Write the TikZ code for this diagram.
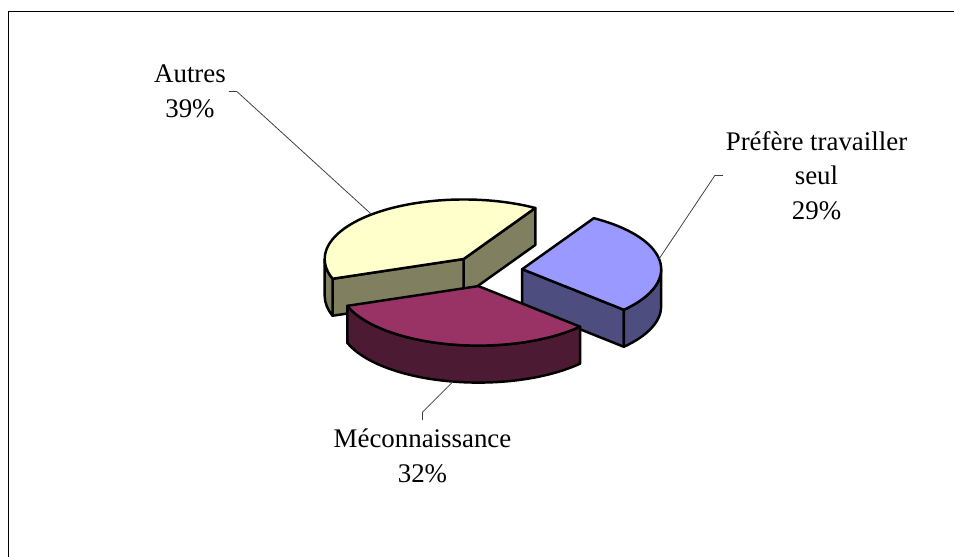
\documentclass[tikz,border=0pt]{standalone}
\usepackage{fontspec}
\setmainfont{Liberation Serif}
\definecolor{autresTop}{HTML}{FFFFCC}
\definecolor{autresSide}{HTML}{808060}
\definecolor{seulTop}{HTML}{9999FF}
\definecolor{seulSide}{HTML}{4D4D80}
\definecolor{mecTop}{HTML}{993366}
\definecolor{mecSide}{HTML}{4D1A33}

\begin{document}
\begin{tikzpicture}[x=0.02cm,y=0.02cm,
    face/.style={draw=black,line width=1.4pt,line join=round},
    ell/.style={x radius=139,y radius=59.5},
    lab/.style={align=center,inner sep=1pt,font=\fontsize{15.3pt}{19.6pt}\selectfont},
    lead/.style={draw=black!75,line width=0.45pt}]
    \useasboundingbox (0,0) rectangle (954,557);
    \draw[line width=1pt] (954,545.5) -- (8.5,545.5) -- (8.5,0);

    % Autres
    \begin{scope}[shift={(463.7,298)}]
        \filldraw[face,fill=autresSide] (0,0) -- (59:139 and 59.5) -- ++(0,-37) -- (0,-37) -- cycle;
        \filldraw[face,fill=autresSide] (0,0) -- (199.4:139 and 59.5) -- ++(0,-37) -- (0,-37) -- cycle;
        \filldraw[face,fill=autresSide] (180:139 and 59.5) arc[ell,start angle=180,end angle=199.4] -- ++(0,-37) arc[ell,start angle=199.4,end angle=180] -- cycle;
        \filldraw[face,fill=autresTop] (0,0) -- (59:139 and 59.5) arc[ell,start angle=59,end angle=199.4] -- cycle;
        \coordinate (autresPt) at (131.5:139 and 59.5);
    \end{scope}

    % Prefere travailler seul
    \begin{scope}[shift={(522.2,287.8)}]
        \filldraw[face,fill=seulSide] (0,0) -- (-43:139 and 59.5) -- ++(0,-37) -- (0,-37) -- cycle;
        \filldraw[face,fill=seulSide] (-43:139 and 59.5) arc[ell,start angle=-43,end angle=0] -- ++(0,-37) arc[ell,start angle=0,end angle=-43] -- cycle;
        \filldraw[face,fill=seulTop] (0,0) -- (-43:139 and 59.5) arc[ell,start angle=-43,end angle=59] -- cycle;
        \coordinate (seulPt) at (10:139 and 59.5);
    \end{scope}

    % Meconnaissance
    \begin{scope}[shift={(478.4,270.9)}]
        \filldraw[face,fill=mecSide] (-160.6:139 and 59.5) arc[ell,start angle=-160.6,end angle=-43] -- ++(0,-37) arc[ell,start angle=-43,end angle=-160.6] -- cycle;
        \filldraw[face,fill=mecTop] (0,0) -- (-160.6:139 and 59.5) arc[ell,start angle=-160.6,end angle=-43] -- cycle;
        \path (-100.5:139 and 59.5) ++(0,-37) coordinate (mecPt);
    \end{scope}

    \node[lab] (autres) at (190,465.5) {Autres\\39\%};
    \node[lab] (seul) at (816.5,381.5) {Préfère travailler\\seul\\29\%};
    \node[lab] (mec) at (422.5,101) {Méconnaissance\\32\%};

    \draw[lead] ([xshift=0.5pt]autres.east) -- ++(8,0) -- (autresPt);
    \draw[lead] ([xshift=-0.5pt]seul.west) -- ++(-8,0) -- (seulPt);
    \draw[lead] ([yshift=4pt]mec.north) -- ++(0,8) -- (mecPt);
\end{tikzpicture}
\end{document}
